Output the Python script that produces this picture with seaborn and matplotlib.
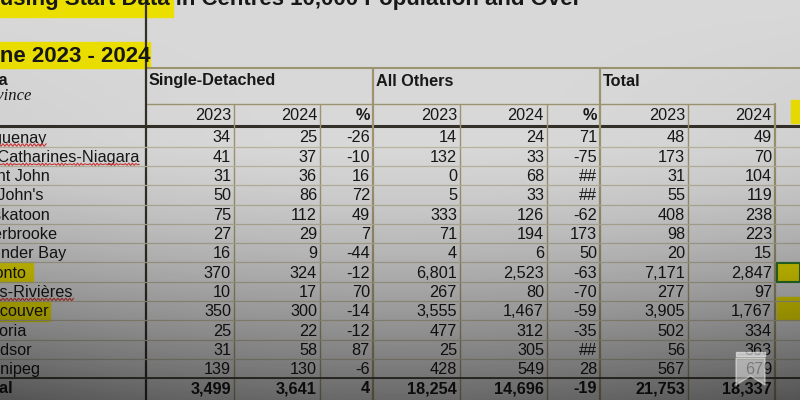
import numpy as np
import matplotlib
matplotlib.use("Agg")
import matplotlib.pyplot as plt
import seaborn as sns
from matplotlib.patches import Rectangle, Polygon

cities = ["Saguenay", "St. Catharines-Niagara", "Saint John", "St. John's", "Saskatoon",
          "Sherbrooke", "Thunder Bay", "Toronto", "Trois-Rivières", "Vancouver",
          "Victoria", "Windsor", "Winnipeg"]
sd_2023 = [34, 41, 31, 50, 75, 27, 16, 370, 10, 350, 25, 31, 139]
sd_2024 = [25, 37, 36, 86, 112, 29, 9, 324, 17, 300, 22, 58, 130]
sd_pct = [-26, -10, 16, 72, 49, 7, -44, -12, 70, -14, -12, 87, -6]
ao_2023 = [14, 132, 0, 5, 333, 71, 4, 6801, 267, 3555, 477, 25, 428]
ao_2024 = [24, 33, 68, 33, 126, 194, 6, 2523, 80, 1467, 312, 305, 549]
ao_pct = [71, -75, None, None, -62, 173, 50, -63, -70, -59, -35, None, 28]
tot_2023 = [48, 173, 31, 55, 408, 98, 20, 7171, 277, 3905, 502, 56, 567]
tot_2024 = [49, 70, 104, 119, 238, 223, 15, 2847, 97, 1767, 334, 363, 679]
total_row = [3499, 3641, 4, 18254, 14696, -19, 21753, 18337]

groups = ["Single-Detached", "All Others", "Total"]
years = ["2023", "2024", "%", "2023", "2024", "%", "2023", "2024"]
title = "Housing Start Data in Centres 10,000 Population and Over"
subtitle = "June 2023 - 2024"
highlighted = ["Toronto", "Vancouver"]
misspelled = ["Saguenay", "St. Catharines-Niagara", "Trois-Rivières"]

sns.set_theme(style="white")
plt.rcParams['font.family'] = ['Liberation Sans', 'DejaVu Sans']

fig = plt.figure(figsize=(8, 4), dpi=100)
ax = fig.add_axes([0, 0, 1, 1])
ax.set_xlim(0, 800)
ax.set_ylim(400, 0)
ax.axis("off")
fig.patch.set_facecolor("#d8d8d8")

yellow = "#ebdf00"
line_c = "#9c9470"
dark_c = "#33302a"
txt_c = "#181818"
fs = 11.7

# column edges (pixels)
edges = [146, 234, 320, 373, 460, 547, 600, 688, 775]
row0, rh = 137, 19.3
n = len(cities)

def fmt(v):
    return "##" if v is None else f"{v:,}"

# highlighted title lines
ax.add_patch(Rectangle((0, 0), 173, 17, color=yellow, zorder=1))
ax.add_patch(Rectangle((0, 42), 150, 26, color=yellow, zorder=1))
ax.text(-30, 5, title, fontsize=16, fontweight="bold", color=txt_c, va="baseline", zorder=3)
ax.text(-26, 62, subtitle, fontsize=16, fontweight="bold", color=txt_c, va="baseline", zorder=3)

# header
ax.plot([146, 800], [68, 68], color=line_c, lw=1.5, zorder=2)
ax.plot([146, 775], [104, 104], color=line_c, lw=1, zorder=2)
ax.plot([0, 800], [126, 126], color=dark_c, lw=2.2, zorder=2)
for gx, g in zip([149, 376, 603], groups):
    ax.text(gx, 81, g, fontsize=fs, fontweight="bold", color=txt_c, va="center", zorder=3)
ax.text(8, 80, "Census Metropolitan Area", fontsize=fs, fontweight="bold", color=txt_c,
        va="center", ha="right", zorder=3)
ax.text(31, 96, "by Province", fontsize=12, style="italic", family=["Liberation Serif"],
        color=txt_c, va="center", ha="right", zorder=3)
for j, y in enumerate(years):
    ax.text(edges[j + 1] - 3, 116, y, fontsize=fs, color=txt_c, va="center", ha="right",
            fontweight="bold" if y == "%" else "normal", zorder=3)
ax.add_patch(Rectangle((791, 100), 9, 23, color=yellow, zorder=1))

# vertical lines
ax.plot([146, 146], [0, 400], color=dark_c, lw=1.6, zorder=2)
for x in [373, 600]:
    ax.plot([x, x], [68, 400], color=line_c, lw=1.6, zorder=2)
ax.plot([775, 775], [104, 400], color=line_c, lw=1.6, zorder=2)
for x in [234, 320, 460, 547, 688]:
    ax.plot([x, x], [104, 400], color=line_c, lw=1, zorder=2)

# body rows
cols = [sd_2023, sd_2024, sd_pct, ao_2023, ao_2024, ao_pct, tot_2023, tot_2024]
for i, city in enumerate(cities):
    yc = row0 + rh * i
    ax.plot([0, 800], [yc + rh / 2, yc + rh / 2], color="#b8b39e", lw=0.9, zorder=2)
    if city in highlighted:
        w = 33 if city == "Toronto" else 50
        ax.add_patch(Rectangle((0, yc - 10), w, 20, color=yellow, zorder=1))
    t = ax.text(-27, yc + 1, city, fontsize=fs, color=txt_c, va="center", zorder=3)
    if city in misspelled:
        # spell-check squiggle under the name
        fig.canvas.draw()
        bb = t.get_window_extent().transformed(ax.transData.inverted())
        xs = np.linspace(max(bb.x0, 0), bb.x1, 80)
        ax.plot(xs, yc + 8 + 1.2 * np.sin(xs * 1.6), color="#d23a3a", lw=0.8, zorder=3)
    for j, col in enumerate(cols):
        ax.text(edges[j + 1] - 3, yc + 1, fmt(col[i]), fontsize=fs, color=txt_c,
                va="center", ha="right", zorder=3)

# total row
yt = row0 + rh * n
ax.plot([0, 800], [yt - rh / 2, yt - rh / 2], color=dark_c, lw=1.2, zorder=2)
ax.text(-24, yt + 1, "Total", fontsize=fs, fontweight="bold", color=txt_c, va="center", zorder=3)
for j, v in enumerate(total_row):
    ax.text(edges[j + 1] - 3, yt + 1, fmt(v), fontsize=fs, fontweight="bold", color=txt_c,
            va="center", ha="right", zorder=3)

# yellow cells at the right edge
ti = cities.index("Toronto")
ax.add_patch(Rectangle((777, row0 + rh * ti - 9.5), 23, 19.5, facecolor=yellow,
                       edgecolor="#2e7a2e", lw=1.5, zorder=2))
ax.add_patch(Rectangle((777, 297), 23, 23, color=yellow, zorder=1))

# vignette overlay
yy, xx = np.mgrid[0:400, 0:800]
a = 0.52 * np.clip((yy - 140) / 260, 0, 1) ** 1.4 + 0.1 * ((xx - 400) / 400) ** 2 * (yy / 400)
over = np.zeros((400, 800, 4))
over[..., 3] = a
ax.imshow(over, extent=[0, 800, 400, 0], zorder=5, aspect="auto")

# bookmark badge
ax.add_patch(Rectangle((736, 352), 29, 4, color="white", alpha=0.55, zorder=6))
ax.add_patch(Polygon([(736, 358), (765, 358), (765, 385), (750.5, 376), (736, 385)],
                     closed=True, color="white", alpha=0.45, zorder=6))

fig.savefig("out.png", dpi=100)
